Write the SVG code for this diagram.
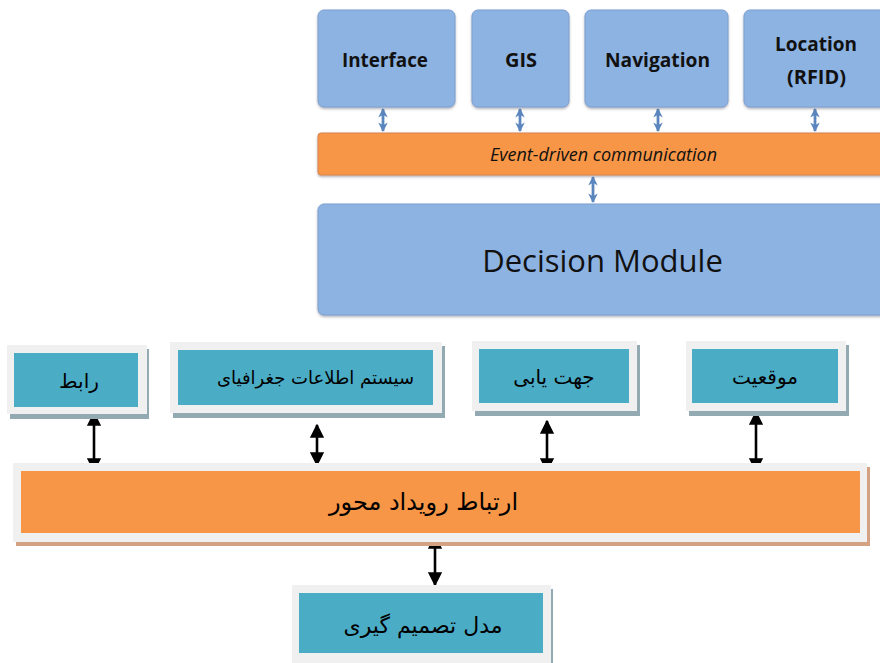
<svg xmlns="http://www.w3.org/2000/svg" width="880" height="663" viewBox="0 0 880 663">
<defs>
<marker id="bh" viewBox="0 0 10 10" refX="9" refY="5" markerWidth="3.4" markerHeight="3.4" orient="auto-start-reverse" markerUnits="strokeWidth"><path d="M0,0 L10,5 L0,10 L3,5 Z" fill="#5a86bd"/></marker>
<marker id="kh" viewBox="0 0 10 10" refX="9" refY="5" markerWidth="5.5" markerHeight="5.5" orient="auto-start-reverse" markerUnits="strokeWidth"><path d="M0,0 L10,5 L0,10 Z" fill="#000"/></marker>
<filter id="sh" x="-5%" y="-5%" width="110%" height="115%"><feDropShadow dx="0" dy="1.5" stdDeviation="1.2" flood-color="#556" flood-opacity="0.45"/></filter>
</defs>
<style>
.bl{fill:#8db3e2;stroke:#7d9fcf;stroke-width:1;filter:url(#sh)}
.or{fill:#f79646;stroke:#d8834a;stroke-width:1;filter:url(#sh)}
.en{font-family:"Open Sans","Noto Sans",sans-serif;fill:#111;text-anchor:middle}
.b{font-weight:bold;font-size:20px}
.ba{stroke:#5a86bd;stroke-width:2.8;fill:none;marker-start:url(#bh);marker-end:url(#bh)}
.ka{stroke:#000;stroke-width:2.6;fill:none;marker-start:url(#kh);marker-end:url(#kh)}
.fr{fill:#f0f0f0}
.tsh{fill:#93aab2}
.osh{fill:#d4a283}
.tl{fill:#4bacc6}
.fa{font-family:"DejaVu Sans",serif;fill:#000;text-anchor:middle}
</style>

<g id="connectors">
<line class="ba" x1="383" y1="109" x2="383" y2="131"/>
<line class="ba" x1="520" y1="109" x2="520" y2="131"/>
<line class="ba" x1="658" y1="109" x2="658" y2="131"/>
<line class="ba" x1="815" y1="109" x2="815" y2="131"/>
<line class="ba" x1="593" y1="177" x2="593" y2="202"/>
<line class="ka" x1="94" y1="413" x2="94" y2="471"/>
<line class="ka" x1="317" y1="425" x2="317" y2="465"/>
<line class="ka" x1="547" y1="421" x2="547" y2="471"/>
<line class="ka" x1="756" y1="412" x2="756" y2="471"/>
<line class="ka" x1="435" y1="536" x2="435" y2="585"/>
</g>

<g id="interface">
<rect class="bl" x="318" y="10" width="137" height="97" rx="6"/>
<text class="en b" x="385" y="67" textLength="86" lengthAdjust="spacingAndGlyphs">Interface</text>
</g>
<g id="gis">
<rect class="bl" x="472" y="10" width="97" height="97" rx="6"/>
<text class="en b" x="521" y="67" textLength="32" lengthAdjust="spacingAndGlyphs">GIS</text>
</g>
<g id="navigation">
<rect class="bl" x="585" y="10" width="143" height="97" rx="6"/>
<text class="en b" x="657.5" y="67" textLength="105" lengthAdjust="spacingAndGlyphs">Navigation</text>
</g>
<g id="location">
<rect class="bl" x="744" y="10" width="145" height="97" rx="6"/>
<text class="en b" x="816" y="51" textLength="82" lengthAdjust="spacingAndGlyphs">Location</text>
<text class="en b" x="816.5" y="84" textLength="59" lengthAdjust="spacingAndGlyphs">(RFID)</text>
</g>
<g id="event-bus">
<rect class="or" x="318" y="133" width="575" height="42" rx="3"/>
<text class="en" x="603.5" y="161" font-size="18" font-style="italic">Event-driven communication</text>
</g>
<g id="decision-module">
<rect class="bl" x="318" y="204" width="575" height="111" rx="6"/>
<text class="en" x="602.5" y="272" font-size="31">Decision Module</text>
</g>

<g id="rabet">
<rect class="tsh" x="10" y="349" width="139" height="70"/>
<rect class="fr" x="7" y="345" width="140" height="69"/>
<rect class="tl" x="14" y="353" width="124" height="54"/>
<text class="fa" x="79" y="388" font-size="20">رابط</text>
</g>
<g id="gis-fa">
<rect class="tsh" x="173" y="346" width="272" height="72"/>
<rect class="fr" x="170" y="342" width="272" height="71"/>
<rect class="tl" x="178" y="350" width="255" height="55"/>
<text class="fa" x="315.5" y="384" font-size="18">سیستم اطلاعات جغرافیای</text>
</g>
<g id="navigation-fa">
<rect class="tsh" x="475" y="345" width="165" height="71"/>
<rect class="fr" x="472" y="341" width="165" height="70"/>
<rect class="tl" x="479" y="349" width="150" height="54"/>
<text class="fa" x="554" y="384" font-size="20">جهت یابی</text>
</g>
<g id="location-fa">
<rect class="tsh" x="689" y="345" width="160" height="71"/>
<rect class="fr" x="686" y="341" width="160" height="70"/>
<rect class="tl" x="692" y="349" width="146" height="54"/>
<text class="fa" x="765" y="384" font-size="20">موقعیت</text>
</g>
<g id="event-bus-fa">
<rect class="osh" x="16" y="467" width="854" height="79"/>
<rect class="fr" x="13" y="463" width="854" height="79"/>
<rect fill="#f79646" x="21" y="471" width="839" height="62"/>
<text class="fa" x="423.5" y="510" font-size="24">ارتباط رویداد محور</text>
</g>
<g id="decision-model-fa">
<rect class="tsh" x="295" y="589" width="258" height="80"/>
<rect class="fr" x="292" y="585" width="259" height="80"/>
<rect class="tl" x="299" y="593" width="244" height="60"/>
<text class="fa" x="423" y="633" font-size="22">مدل تصمیم گیری</text>
</g>
</svg>
